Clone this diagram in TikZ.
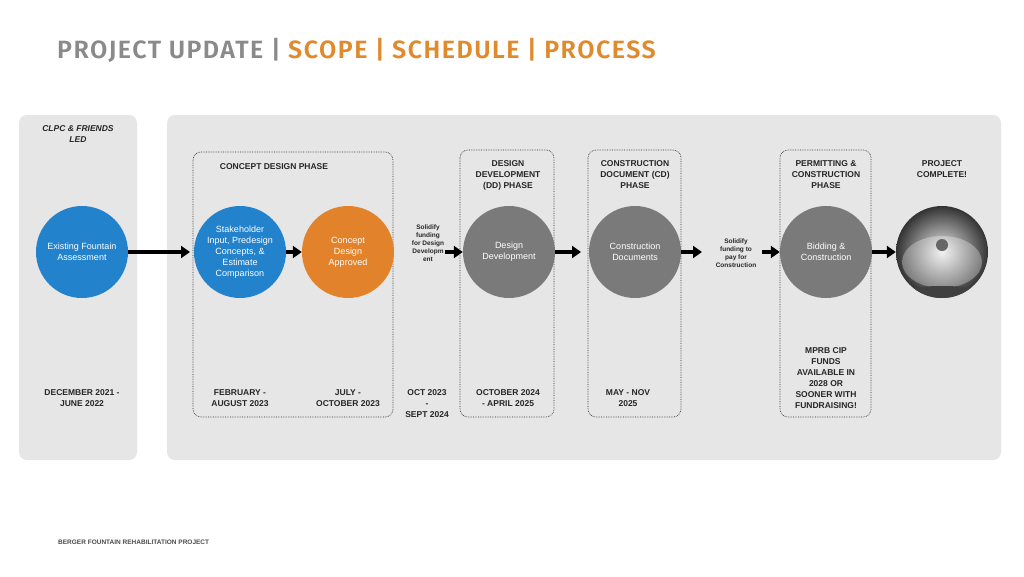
\documentclass[tikz,border=0pt]{standalone}
\usepackage{fontspec}
\setmainfont{Liberation Sans}
\newfontfamily\titlefont[LetterSpace=6]{Fira Sans SemiBold}
\usetikzlibrary{arrows.meta,shadings}
\definecolor{pgray}{HTML}{E6E6E6}
\definecolor{tgray}{HTML}{8A8A8A}
\definecolor{torange}{HTML}{E08A2E}
\definecolor{cblue}{HTML}{2282CC}
\definecolor{corange}{HTML}{E2832B}
\definecolor{cgray}{HTML}{7A7A7A}
\tikzset{
  panel/.style={fill=pgray,draw=none,rounded corners=8pt},
  phase/.style={draw=black!80,densely dotted,rounded corners=8pt,line width=0.7pt},
  circ/.style={circle,minimum size=92pt,inner sep=0pt,text=white,align=center,font=\fontsize{9}{11}\selectfont},
  lbl/.style={align=center,font=\bfseries\fontsize{8.5}{11}\selectfont,text=black!85},
  small/.style={align=center,font=\bfseries\fontsize{6.5}{8}\selectfont,text=black!85},
  arr/.style={-{Triangle[length=9pt,width=12pt]},line width=3.5pt,black},
}
\begin{document}
\begin{tikzpicture}[x=1pt,y=-1pt]
\useasboundingbox (0,0) rectangle (1024,576);
\fill[white] (0,0) rectangle (1024,576);
\node[anchor=base west,inner sep=0,font=\titlefont\fontsize{25}{28}\selectfont] (title) at (57,58)
  {\textcolor{tgray}{PROJECT UPDATE |} \textcolor{torange}{SCOPE | SCHEDULE | PROCESS}};
\node[anchor=base west,inner sep=0,font=\bfseries\fontsize{6.5}{8}\selectfont,text=black!70] (foot) at (58,544) {BERGER FOUNTAIN REHABILITATION PROJECT};
\fill[panel] (19,115) rectangle (137,460);
\fill[panel] (167,115) rectangle (1001,460);
\draw[phase] (193,152) rectangle (393,417);
\draw[phase] (460,150) rectangle (554,417);
\draw[phase] (588,150) rectangle (681,417);
\draw[phase] (780,150) rectangle (871,417);
% headers
\node[lbl,font=\bfseries\itshape\fontsize{8.5}{11}\selectfont] (h0) at (78,134) {CLPC \& FRIENDS\\LED};
\node[lbl] (h1) at (274,167) {CONCEPT DESIGN PHASE};
\node[lbl] (h2) at (508,175) {DESIGN\\DEVELOPMENT\\(DD) PHASE};
\node[lbl] (h3) at (635,175) {CONSTRUCTION\\DOCUMENT (CD)\\PHASE};
\node[lbl] (h4) at (826,175) {PERMITTING \&\\CONSTRUCTION\\PHASE};
\node[lbl] (h5) at (942,169) {PROJECT\\COMPLETE!};
% circles
\node[circ,fill=cblue] (c0) at (82,252) {Existing Fountain\\Assessment};
\node[circ,fill=cblue] (c1) at (240,252) {Stakeholder\\Input, Predesign\\Concepts, \&\\Estimate\\Comparison};
\node[circ,fill=corange] (c2) at (348,252) {Concept\\Design\\Approved};
\node[circ,fill=cgray] (c3) at (509,252) {Design\\Development};
\node[circ,fill=cgray] (c4) at (635,252) {Construction\\Documents};
\node[circ,fill=cgray] (c5) at (826,252) {Bidding \&\\Construction};
\begin{scope}
\clip (942,252) circle (46);
\shade[inner color=white!85!gray,outer color=black!80] (942,252) circle (46);
\fill[white,opacity=0.3] (942,262) ellipse (40 and 26);
\fill[black!60] (942,245) circle (6);
\fill[black!75] (942,292) ellipse (40 and 6);
\end{scope}
\node[circle,minimum size=92pt,inner sep=0pt] (c6) at (942,252) {};
% funding notes
\node[small] (f1) at (428,243) {Solidify\\funding\\for Design\\Developm\\ent};
\node[small] (f2) at (736,253) {Solidify\\funding to\\pay for\\Construction};
\coordinate (a1e) at (445,252);
\coordinate (b2s) at (762,252);
% arrows
\draw[arr] (c0) -- (190,252);
\draw[arr] (c1) -- (c2);
\draw[arr] (a1e) -- (c3);
\draw[arr] (c3) -- (581,252);
\draw[arr] (c4) -- (702,252);
\draw[arr] (b2s) -- (c5);
\draw[arr] (c5) -- (c6);
% dates
\node[lbl] (d0) at (82,398) {DECEMBER 2021 -\\JUNE 2022};
\node[lbl] (d1) at (240,398) {FEBRUARY -\\AUGUST 2023};
\node[lbl] (d2) at (348,398) {JULY -\\OCTOBER 2023};
\node[lbl] (d3) at (427,404) {OCT 2023\\-\\SEPT 2024};
\node[lbl] (d4) at (508,398) {OCTOBER 2024\\- APRIL 2025};
\node[lbl] (d5) at (628,398) {MAY - NOV\\2025};
\node[lbl] (d6) at (826,378) {MPRB CIP\\FUNDS\\AVAILABLE IN\\2028 OR\\SOONER WITH\\FUNDRAISING!};
\end{tikzpicture}
\end{document}
